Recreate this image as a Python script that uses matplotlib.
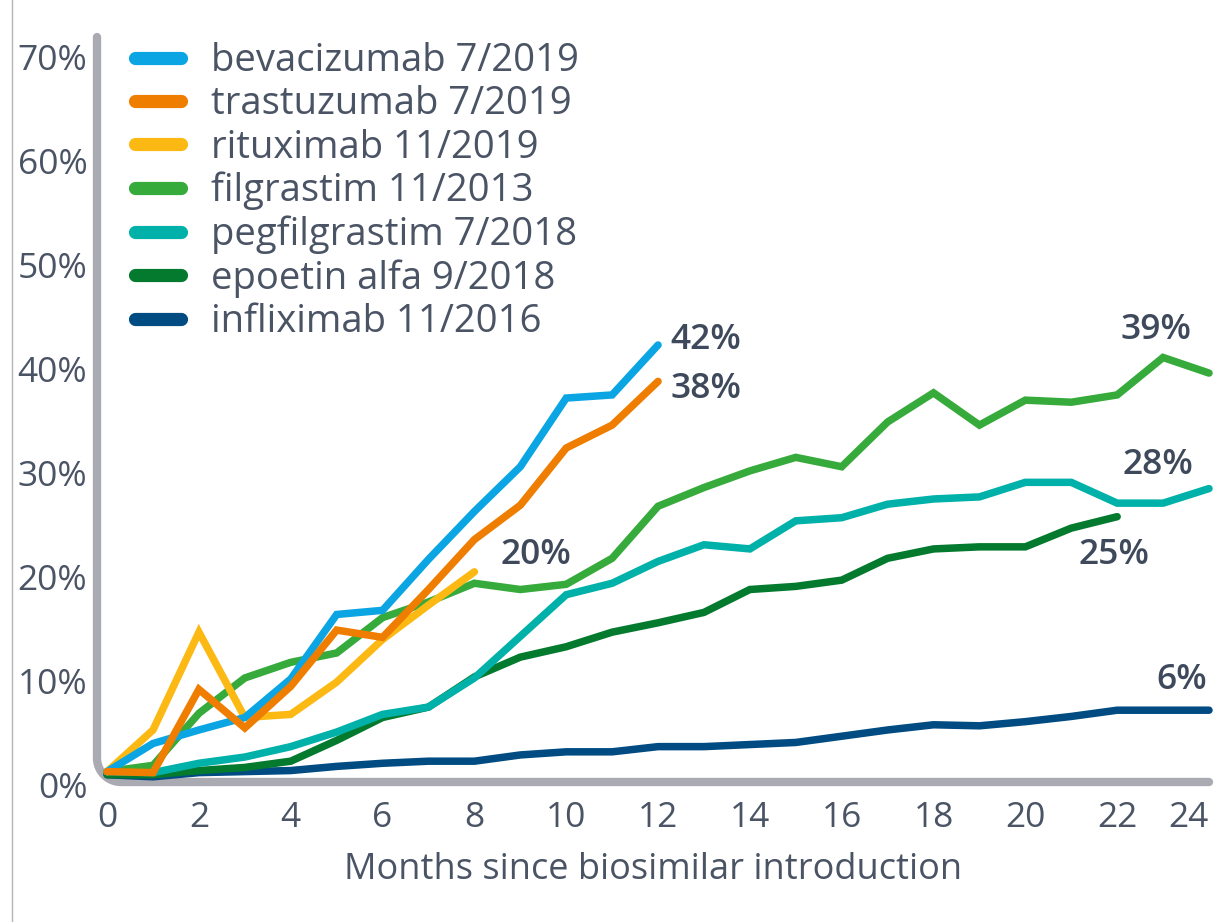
import matplotlib
matplotlib.use("Agg")
import matplotlib.pyplot as plt
from matplotlib.lines import Line2D
from matplotlib.transforms import ScaledTranslation
import numpy as np

# share of biosimilar (%) by month since introduction
bevacizumab = [0.8, 3.5, 4.8, 6.0, 9.7, 15.9, 16.3, 21.2, 25.8, 30.1, 36.7, 37.0, 41.8]
trastuzumab = [0.8, 0.7, 8.7, 5.0, 9.0, 14.4, 13.7, 18.3, 23.1, 26.4, 31.9, 34.1, 38.3]
rituximab = [0.8, 4.8, 14.2, 6.0, 6.3, 9.4, 13.5, 16.8, 20.0]
filgrastim = [0.8, 1.4, 6.4, 9.8, 11.3, 12.2, 15.6, 17.1, 18.9, 18.3, 18.8, 21.3, 26.3,
              28.1, 29.7, 31.0, 30.1, 34.4, 37.2, 34.1, 36.5, 36.3, 37.0, 40.6, 39.1]
pegfilgrastim = [0.8, 0.7, 1.6, 2.2, 3.2, 4.6, 6.3, 7.0, 9.8, 13.8, 17.8, 18.9, 21.0,
                 22.6, 22.2, 24.9, 25.2, 26.5, 27.0, 27.2, 28.6, 28.6, 26.6, 26.6, 28.0]
epoetin_alfa = [0.5, 0.5, 0.9, 1.2, 1.8, 3.8, 6.0, 7.0, 9.9, 11.8, 12.8, 14.2, 15.1,
                16.1, 18.3, 18.6, 19.2, 21.3, 22.2, 22.4, 22.4, 24.2, 25.3]
infliximab = [0.5, 0.3, 0.7, 0.8, 0.9, 1.3, 1.6, 1.8, 1.8, 2.4, 2.7, 2.7, 3.2,
              3.2, 3.4, 3.6, 4.2, 4.8, 5.3, 5.2, 5.6, 6.1, 6.7, 6.7, 6.7]

names = ["bevacizumab 7/2019", "trastuzumab 7/2019", "rituximab 11/2019",
         "filgrastim 11/2013", "pegfilgrastim 7/2018", "epoetin alfa 9/2018",
         "infliximab 11/2016"]
series = [bevacizumab, trastuzumab, rituximab, filgrastim, pegfilgrastim,
          epoetin_alfa, infliximab]
colors = ["#0ba5e4", "#ef7d00", "#fdb913", "#36ab3b", "#00b1aa", "#037a2e", "#004b82"]

# end labels: series index, text, offset in pixels
end_labels = [(0, "42%", (12, 5), "left"), (1, "38%", (12, -8), "left"),
              (2, "20%", (26, 17), "left"), (3, "39%", (-53, 43), "center"),
              (4, "28%", (-51, 24), "center"), (5, "25%", (-3, -38), "center"),
              (6, "6%", (-27, 30), "center")]

x_ticks = list(range(0, 25, 2))
y_ticks = list(range(0, 71, 10))

TEXT = "#4a5465"
LABEL = "#3e495b"
AXIS_GRAY = "#a9aab2"

plt.rcParams["font.family"] = ["Open Sans", "DejaVu Sans"]

fig = plt.figure(figsize=(12.17, 9.22), dpi=100)
ax = fig.add_axes([97 / 1217, 1 - 782 / 922, 1112 / 1217, 745 / 922])

order = [6, 5, 4, 3, 2, 0, 1]
handles = {}
for i in order:
    vals = series[i]
    ln, = ax.plot(range(len(vals)), vals, color=colors[i], lw=5.4,
                  solid_capstyle="round", solid_joinstyle="miter",
                  clip_on=False, zorder=3 + order.index(i), label=names[i])
    handles[i] = ln

for i, txt, off, ha in end_labels:
    vals = series[i]
    ax.annotate(txt, xy=(len(vals) - 1, vals[-1]), xytext=off,
                textcoords="offset pixels", ha=ha, va="center",
                fontsize=25.5, fontweight="semibold", color=LABEL)

ax.set_xlim(-0.22, 24.0)
ax.set_ylim(-0.2, 71.4)
ax.set_xticks(x_ticks)
ax.set_xticklabels([str(t) for t in x_ticks])
ax.get_xticklabels()[-1].set_horizontalalignment("right")
ax.set_yticks(y_ticks)
ax.set_yticklabels([f"{t}%" for t in y_ticks])
ax.tick_params(axis="both", length=0, labelsize=25.5, labelcolor=TEXT)
ax.tick_params(axis="x", pad=14)
ax.tick_params(axis="y", pad=7)
shift = ScaledTranslation(0, -0.05, fig.dpi_scale_trans)
for lab in ax.get_yticklabels():
    lab.set_transform(lab.get_transform() + shift)
ax.set_xlabel("Months since biosimilar introduction", fontsize=26,
              color=TEXT, labelpad=12)
for s in ax.spines.values():
    s.set_visible(False)

# L-shaped axis with a rounded corner
w, h = ax.bbox.width, ax.bbox.height
r = 24
t = np.linspace(np.pi, 1.5 * np.pi, 20)
fx = np.concatenate([[0], r / w + r / w * np.cos(t), [1.0]])
fy = np.concatenate([[1], r / h + r / h * np.sin(t), [0]])
ax.plot(fx, fy, transform=ax.transAxes, color=AXIS_GRAY, lw=6,
        solid_capstyle="round", clip_on=False, zorder=2)

leg = ax.legend([handles[i] for i in range(7)], names, loc="upper left",
                bbox_to_anchor=(0.034, 0.993), frameon=False, fontsize=27.5,
                handlelength=1.2, handletextpad=0.8, labelspacing=0.135,
                borderpad=0, borderaxespad=0)
for lh, txt in zip(leg.get_lines(), leg.get_texts()):
    lh.set_linewidth(9.5)
    lh.set_solid_capstyle("round")
    txt.set_color(TEXT)

fig.add_artist(Line2D([12 / 1217, 12 / 1217], [0, 1], transform=fig.transFigure,
                      color="#b5b5b5", lw=1))

fig.savefig("out.png", dpi=100)
